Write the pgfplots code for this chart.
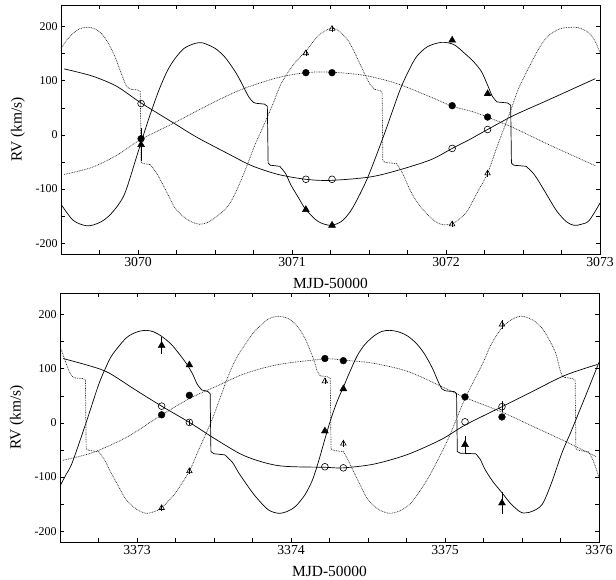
\documentclass[border=0pt]{standalone}
\usepackage{fontspec}
\setmainfont{Liberation Serif}
\usepackage{pgfplots}
\pgfplotsset{compat=1.18}
\begin{document}
\begin{tikzpicture}
\pgfplotsset{
  rvpanel/.style={
    width=539bp, height=249bp, scale only axis,
    ymin=-220, ymax=240,
    ytick={-200,-100,0,100,200},
    minor y tick num=1,
    xtick distance=1,
    minor x tick num=3,
    tick align=inside,
    major tick length=4bp, minor tick length=4bp,
    tick style={black, line width=0.6pt},
    axis line style={line width=0.8pt},
    xticklabel style={font=\fontsize{13.8}{14}\selectfont},
    yticklabel style={font=\fontsize{12}{13}\selectfont},
    label style={font=\fontsize{15.5}{16}\selectfont},
    /pgf/number format/assume math mode=true,
    /pgf/number format/1000 sep={},
    scaled x ticks=false,
    xlabel={MJD-50000}, ylabel={RV (km/s)},
    xlabel style={at={(axis description cs:0.5,-0.12)}, anchor=center},
    ylabel style={at={(axis description cs:-0.08,0.5)}, anchor=center},
  },
  curve/.style={black, line width=0.7pt, no marks},
  dcurve/.style={black!85, line width=0.7pt, dash pattern=on 0.8pt off 0.9pt, no marks},
  sm/.style={smooth, tension=0.5},
  ebar/.style={error bars/.cd, y dir=both, y explicit, error mark=none,
    error bar style={black, line width=0.7pt, solid}},
}

% ---------------- top panel ----------------
\begin{axis}[rvpanel, xmin=3069.5, xmax=3073]
% long period, solid (open circles)
\addplot[curve, sm] coordinates {(3069.52,122) (3069.70,109) (3069.86,90) (3070.02,59) (3070.22,24) (3070.38,-4) (3070.58,-34) (3070.74,-57) (3070.91,-73) (3071.09,-82) (3071.25,-84) (3071.50,-78) (3071.68,-66) (3071.90,-46) (3072.04,-25) (3072.15,-9) (3072.27,10) (3072.44,36) (3072.66,64) (3072.97,104)};
% long period, dotted (filled circles)
\addplot[dcurve, sm] coordinates {(3069.52,-73) (3069.70,-60) (3069.86,-38) (3070.02,-8) (3070.22,20) (3070.38,44) (3070.54,67) (3070.69,86) (3070.91,106) (3071.09,115) (3071.25,116) (3071.47,110) (3071.68,95) (3071.90,70) (3072.04,53) (3072.16,44) (3072.27,33) (3072.44,13) (3072.66,-17) (3072.97,-57)};
% short period, solid (filled triangles)
\addplot[curve, sm] coordinates {(3069.505,-130) (3069.58,-158) (3069.67,-168) (3069.75,-162) (3069.81,-150) (3069.87,-130) (3069.92,-104) (3070.00,-32) (3070.07,30) (3070.135,82) (3070.19,118) (3070.24,141) (3070.30,160) (3070.37,169) (3070.42,170) (3070.50,160) (3070.56,145) (3070.61,126) (3070.65,108) (3070.69,86) (3070.72,70) (3070.75,60) (3070.78,58)};
\addplot[curve] coordinates {(3070.78,58) (3070.82,57) (3070.84,53) (3070.845,-52) (3070.86,-56) (3070.92,-58)};
\addplot[curve, sm] coordinates {(3070.92,-58) (3070.96,-72) (3070.99,-91) (3071.04,-115) (3071.09,-138) (3071.17,-160) (3071.25,-167) (3071.32,-160) (3071.38,-141) (3071.44,-110) (3071.50,-73) (3071.60,2) (3071.70,82) (3071.76,120) (3071.81,145) (3071.88,163) (3071.97,171) (3072.05,167) (3072.12,151) (3072.18,135) (3072.23,117) (3072.27,92) (3072.30,72) (3072.33,61)};
\addplot[curve] coordinates {(3072.33,61) (3072.40,59) (3072.42,55) (3072.425,-52) (3072.44,-56) (3072.52,-58)};
\addplot[curve, sm] coordinates {(3072.52,-58) (3072.57,-72) (3072.62,-94) (3072.67,-118) (3072.72,-141) (3072.78,-160) (3072.83,-167) (3072.88,-165) (3072.93,-158) (3073.0,-126)};
% short period, dotted (open triangles)
\addplot[dcurve, sm] coordinates {(3069.50,160) (3069.54,176) (3069.58,188) (3069.62,196) (3069.67,199) (3069.72,196) (3069.77,185) (3069.81,168) (3069.85,145) (3069.88,122) (3069.91,100) (3069.93,88) (3069.96,84)};
\addplot[dcurve] coordinates {(3069.96,84) (3070.00,83) (3070.015,80) (3070.02,-50) (3070.035,-53) (3070.08,-55)};
\addplot[dcurve, sm] coordinates {(3070.08,-55) (3070.12,-70) (3070.16,-91) (3070.20,-113) (3070.24,-135) (3070.30,-152) (3070.35,-161) (3070.40,-165) (3070.45,-162) (3070.50,-153) (3070.56,-139) (3070.61,-120) (3070.66,-90) (3070.71,-55) (3070.76,-18) (3070.82,20) (3070.88,60) (3070.93,95) (3071.01,130) (3071.09,155) (3071.17,183) (3071.25,197) (3071.30,193) (3071.36,176) (3071.40,156) (3071.44,132) (3071.48,108) (3071.51,92) (3071.54,84)};
\addplot[dcurve] coordinates {(3071.54,84) (3071.57,82) (3071.585,79) (3071.59,-48) (3071.61,-51) (3071.68,-53)};
\addplot[dcurve, sm] coordinates {(3071.68,-53) (3071.72,-72) (3071.77,-104) (3071.82,-127) (3071.88,-147) (3071.93,-160) (3071.98,-166) (3072.04,-164) (3072.09,-155) (3072.14,-140) (3072.20,-108) (3072.27,-71) (3072.33,-23) (3072.42,45) (3072.47,85) (3072.53,120) (3072.60,158) (3072.66,182) (3072.74,196) (3072.83,199) (3072.88,196) (3072.93,188) (3072.97,172) (3073.0,152)};
% observations
\addplot[only marks, mark=triangle, mark size=3.2pt, black, mark options={line width=0.6pt}, ebar] coordinates {(3071.09,151) +- (0,6) (3071.26,196) +- (0,6) (3072.04,-165) +- (0,6) (3072.27,-71) +- (0,6)};
\addplot[only marks, mark=o, mark size=3.4pt, black, mark options={line width=0.6pt}] coordinates {(3070.02,58) (3071.09,-82) (3071.26,-82) (3072.04,-25) (3072.27,10)};
\addplot[only marks, mark=*, mark size=3.4pt, black] coordinates {(3070.02,-7) (3071.09,115) (3071.26,115) (3072.04,54) (3072.27,33)};
\addplot[only marks, mark=triangle*, mark size=4pt, black, ebar] coordinates {(3070.02,-18) +- (0,30) (3071.09,-138) +- (0,0) (3071.26,-167) +- (0,0) (3072.04,175) +- (0,0) (3072.27,76) +- (0,0)};
\end{axis}

% ---------------- bottom panel ----------------
\begin{axis}[rvpanel, xmin=3372.5, xmax=3376, at={(-1bp,-288bp)}, anchor=south west]
\addplot[curve, sm] coordinates {(3372.52,119) (3372.71,104) (3372.82,92) (3372.99,61) (3373.16,31) (3373.34,1) (3373.51,-30) (3373.70,-61) (3373.92,-79) (3374.22,-82) (3374.34,-83) (3374.54,-76) (3374.76,-58) (3374.98,-30) (3375.13,-4) (3375.37,30) (3375.56,57) (3375.78,88) (3375.99,108)};
\addplot[dcurve, sm] coordinates {(3372.52,-69) (3372.71,-55) (3372.93,-27) (3373.14,11) (3373.34,45) (3373.51,67) (3373.70,91) (3373.92,108) (3374.22,118) (3374.34,116) (3374.54,110) (3374.76,95) (3374.98,67) (3375.13,47) (3375.37,20) (3375.56,-5) (3375.78,-34) (3375.98,-62)};
% short period, solid
\addplot[curve, sm] coordinates {(3372.505,-114) (3372.54,-95) (3372.58,-73) (3372.67,1) (3372.75,70) (3372.80,104) (3372.84,126) (3372.93,157) (3373.00,168) (3373.06,171) (3373.11,168) (3373.16,160) (3373.22,146) (3373.27,129) (3373.32,110) (3373.36,91) (3373.39,72) (3373.42,61)};
\addplot[curve] coordinates {(3373.42,61) (3373.46,58) (3373.475,54) (3373.48,-53) (3373.50,-57) (3373.57,-59)};
\addplot[curve, sm] coordinates {(3373.57,-59) (3373.62,-73) (3373.66,-92) (3373.72,-117) (3373.77,-136) (3373.85,-160) (3373.92,-167) (3373.98,-163) (3374.03,-154) (3374.09,-133) (3374.14,-105) (3374.18,-70) (3374.22,-30) (3374.26,8) (3374.30,40) (3374.34,66) (3374.38,93) (3374.43,124) (3374.48,145) (3374.54,161) (3374.59,169) (3374.64,171) (3374.70,168) (3374.76,160) (3374.82,145) (3374.87,126) (3374.92,100) (3374.95,80) (3374.98,63) (3375.01,59)};
\addplot[curve] coordinates {(3375.01,59) (3375.06,58) (3375.075,54) (3375.08,-53) (3375.10,-56) (3375.20,-57)};
\addplot[curve, sm] coordinates {(3375.20,-57) (3375.23,-68) (3375.26,-86) (3375.31,-108) (3375.37,-129) (3375.42,-147) (3375.46,-158) (3375.50,-166) (3375.56,-164) (3375.63,-151) (3375.69,-112) (3375.76,-55) (3375.82,-15) (3375.87,20) (3375.93,62) (3376.0,112)};
% short period, dotted
\addplot[dcurve, sm] coordinates {(3372.50,141) (3372.53,118) (3372.56,95) (3372.58,86) (3372.60,83)};
\addplot[dcurve] coordinates {(3372.60,83) (3372.65,82) (3372.665,79) (3372.67,-48) (3372.69,-51) (3372.75,-53)};
\addplot[dcurve, sm] coordinates {(3372.75,-53) (3372.79,-68) (3372.82,-86) (3372.87,-112) (3372.93,-142) (3373.00,-160) (3373.06,-167) (3373.11,-164) (3373.16,-157) (3373.25,-129) (3373.34,-89) (3373.40,-50) (3373.49,8) (3373.59,85) (3373.65,122) (3373.70,144) (3373.76,168) (3373.81,182) (3373.86,193) (3373.92,197) (3373.98,193) (3374.03,182) (3374.08,162) (3374.11,144) (3374.15,115) (3374.17,96) (3374.19,87)};
\addplot[dcurve] coordinates {(3374.19,87) (3374.24,85) (3374.255,82) (3374.26,-48) (3374.28,-51) (3374.34,-53)};
\addplot[dcurve, sm] coordinates {(3374.34,-53) (3374.37,-68) (3374.41,-92) (3374.45,-115) (3374.50,-142) (3374.57,-160) (3374.64,-167) (3374.71,-162) (3374.78,-148) (3374.85,-120) (3374.91,-92) (3375.02,-30) (3375.13,45) (3375.24,107) (3375.30,145) (3375.37,176) (3375.44,192) (3375.50,197) (3375.57,190) (3375.63,175) (3375.68,152) (3375.72,128) (3375.745,100) (3375.76,88) (3375.78,84)};
\addplot[dcurve] coordinates {(3375.78,84) (3375.83,82) (3375.845,79) (3375.85,-48) (3375.87,-51) (3375.93,-53)};
\addplot[dcurve, sm] coordinates {(3375.93,-53) (3375.96,-68) (3376.0,-100)};
% observations
\addplot[only marks, mark=triangle, mark size=3.2pt, black, mark options={line width=0.6pt}, ebar] coordinates {(3373.16,-157) +- (0,6) (3373.34,-89) +- (0,6) (3374.22,77) +- (0,6) (3374.34,-38) +- (0,6) (3375.37,182) +- (0,8)};
\addplot[only marks, mark=o, mark size=3.4pt, black, mark options={line width=0.6pt}, ebar] coordinates {(3373.16,31) +- (0,0) (3373.34,1) +- (0,5) (3374.22,-81) +- (0,0) (3374.34,-83) +- (0,0) (3375.13,2) +- (0,0) (3375.37,30) +- (0,10)};
\addplot[only marks, mark=*, mark size=3.4pt, black] coordinates {(3373.16,15) (3373.34,51) (3374.22,119) (3374.34,115) (3375.13,48) (3375.37,11)};
\addplot[only marks, mark=triangle*, mark size=4pt, black, ebar] coordinates {(3373.16,143) +- (0,15) (3373.34,107) +- (0,0) (3374.22,-15) +- (0,0) (3374.34,63) +- (0,0) (3375.13,-40) +- (0,15) (3375.37,-148) +- (0,21)};
\end{axis}
\pgfresetboundingbox
\path[use as bounding box] (-61bp,-326bp) rectangle (555bp,254bp);
\end{tikzpicture}
\end{document}
